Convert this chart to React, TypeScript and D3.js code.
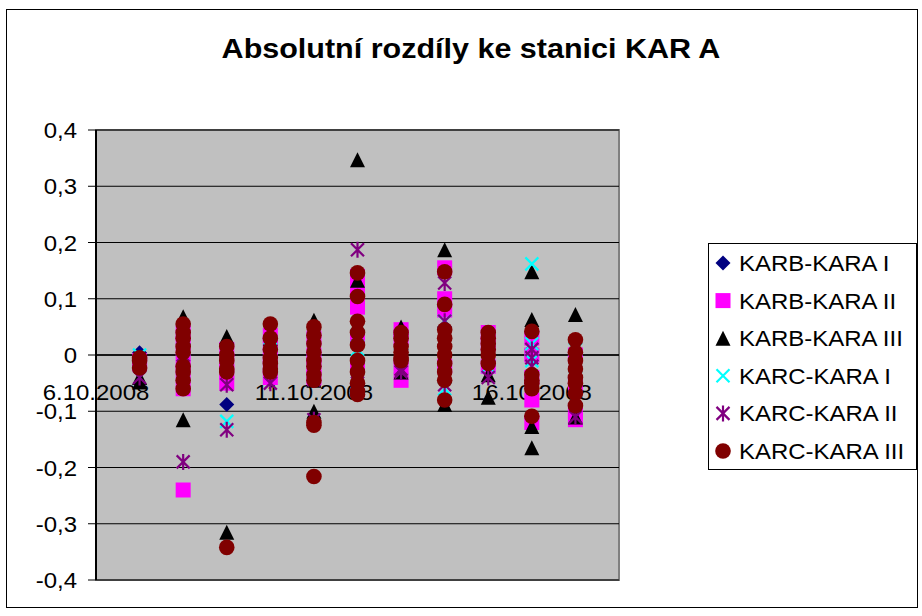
import React from 'react'
import * as d3 from 'd3'

// measurement days (x positions), one column of points per day
const days = [
  '2008-10-07', '2008-10-08', '2008-10-09', '2008-10-10', '2008-10-11', '2008-10-12',
  '2008-10-13', '2008-10-14', '2008-10-15', '2008-10-16', '2008-10-17',
]

const seriesNames = [
  'KARB-KARA I', 'KARB-KARA II', 'KARB-KARA III',
  'KARC-KARA I', 'KARC-KARA II', 'KARC-KARA III',
]

// values per day for each series
const karbI = [
  [0.004], [0.02, -0.01], [0.0, -0.088], [0.01], [0.0, -0.02], [0.03, -0.055],
  [0.01], [0.05, -0.01], [-0.01], [0.01], [0.0],
]
const karbII = [
  [-0.01, -0.015], [0.04, 0.02, -0.01, -0.03, -0.06, -0.24], [0.01, -0.01, -0.03, -0.05],
  [0.035, 0.02, 0.0, -0.02, -0.04], [0.03, 0.0, -0.02, -0.04],
  [0.14, 0.12, 0.1, 0.085, 0.03, -0.02], [0.045, 0.03, -0.02, -0.045],
  [0.155, 0.1, 0.08, -0.02], [0.04, 0.02, -0.02], [0.03, 0.0, -0.04, -0.08, -0.12],
  [0.0, -0.05, -0.1, -0.115],
]
const karbIII = [
  [-0.048, -0.04], [0.068, -0.115], [0.033, -0.315], [0.03, 0.0], [0.062, -0.045, -0.1],
  [0.347, 0.133, -0.06], [0.05, -0.03], [0.187, -0.088], [-0.035, -0.075],
  [0.148, 0.063, -0.127, -0.165], [0.072, -0.11],
]
const karcI = [
  [0.0], [0.01, -0.01, -0.05], [0.005, -0.118], [0.01, 0.02], [0.03, -0.01],
  [0.035, 0.01], [0.02, 0.0], [0.06, -0.06], [0.03, -0.02], [0.162, 0.02, -0.01],
  [0.01, -0.02],
]
const karcII = [
  [-0.04], [0.04, 0.0, -0.19], [-0.005, -0.053, -0.133], [0.0, -0.05], [-0.044, -0.115],
  [0.187, 0.03, -0.05], [-0.025, -0.03], [0.128, 0.06, -0.053], [-0.01, -0.04],
  [0.01, -0.005, -0.02], [-0.03, -0.11],
]
const karcIII = [
  [-0.005, -0.01, -0.023],
  [0.055, 0.04, 0.03, 0.015, 0.005, -0.02, -0.03, -0.045, -0.06],
  [0.015, 0.0, -0.01, -0.025, -0.03, -0.342],
  [0.055, 0.03, 0.01, -0.005, -0.015, -0.025, -0.03],
  [0.05, 0.035, 0.02, 0.005, -0.01, -0.02, -0.035, -0.045, -0.12, -0.125, -0.216],
  [0.146, 0.104, 0.06, 0.04, 0.018, -0.01, -0.03, -0.05, -0.065, -0.07],
  [0.04, 0.03, 0.015, 0.005, -0.005, -0.01],
  [0.148, 0.09, 0.045, 0.03, 0.015, 0.0, -0.015, -0.03, -0.045, -0.08],
  [0.04, 0.03, 0.02, 0.01, 0.0, -0.015],
  [0.042, -0.035, -0.045, -0.05, -0.06, -0.109],
  [0.027, 0.005, -0.01, -0.025, -0.04, -0.05, -0.068, -0.09],
]

const yTicks = [0.4, 0.3, 0.2, 0.1, 0, -0.1, -0.2, -0.3, -0.4]
const xTickDates = ['2008-10-06', '2008-10-11', '2008-10-16']

const colors = ['#000080', '#FF00FF', '#000000', '#00FFFF', '#800080', '#800000']
const allSeries = [karbI, karbII, karbIII, karcI, karcII, karcIII]

const parse = d3.timeParse('%Y-%m-%d')
const fmtDate = d3.timeFormat('%-d.%m.%Y')
// Czech style: decimal comma, plain hyphen as minus
const czLocale = d3.formatLocale({decimal: ',', thousands: ' ', grouping: [3], currency: ['', ' Kč'], minus: '-'})
const fmtY = (v: number) => (v === 0 ? '0' : czLocale.format('.1f')(v))

const plot = {left: 96, right: 619, top: 130, bottom: 580}
const x = d3.scaleTime()
  .domain([parse('2008-10-06')!, parse('2008-10-18')!])
  .range([plot.left, plot.right])
const y = d3.scaleLinear().domain([-0.4, 0.4]).range([plot.bottom, plot.top])

const FONT = 'Liberation Sans, Arial, sans-serif'
const SX = 1.09 // the original text is slightly stretched horizontally

function Marker({kind, cx, cy, color}: {kind: number; cx: number; cy: number; color: string}) {
  const r = 7.5
  if (kind === 0) {
    return <path d={`M${cx},${cy - r} L${cx + r},${cy} L${cx},${cy + r} L${cx - r},${cy} Z`} fill={color} />
  }
  if (kind === 1) {
    return <rect x={cx - r} y={cy - r} width={2 * r} height={2 * r} fill={color} />
  }
  if (kind === 2) {
    return <path d={`M${cx},${cy - r} L${cx + r},${cy + r} L${cx - r},${cy + r} Z`} fill={color} />
  }
  if (kind === 3) {
    const a = 6.5
    return (
      <path d={`M${cx - a},${cy - a} L${cx + a},${cy + a} M${cx + a},${cy - a} L${cx - a},${cy + a}`}
        stroke={color} strokeWidth={2.2} fill="none" />
    )
  }
  if (kind === 4) {
    const a = 6.5
    return (
      <path d={`M${cx - a},${cy - a} L${cx + a},${cy + a} M${cx + a},${cy - a} L${cx - a},${cy + a} M${cx},${cy - r - 0.5} L${cx},${cy + r + 0.5}`}
        stroke={color} strokeWidth={2.2} fill="none" />
    )
  }
  return <circle cx={cx} cy={cy} r={r + 0.3} fill={color} />
}

function Txt({x0, y0, size, anchor, bold, children}: any) {
  return (
    <text transform={`translate(${x0},${y0}) scale(${SX},1)`} fontFamily={FONT} fontSize={size}
      textAnchor={anchor || 'start'} fontWeight={bold ? 'bold' : 'normal'} fill="#000">
      {children}
    </text>
  )
}

export default function App() {
  return (
    <svg width={922} height={616} style={{position: 'absolute', left: 0, top: 0, background: '#fff'}}>
      <rect x={6.5} y={9.5} width={911} height={598} fill="#fff" stroke="#000" strokeWidth={1} />
      <Txt x0={471} y0={58} size={28} anchor="middle" bold>Absolutní rozdíly ke stanici KAR A</Txt>

      {/* plot area */}
      <rect x={plot.left} y={plot.top} width={plot.right - plot.left} height={plot.bottom - plot.top}
        fill="#C0C0C0" stroke="#808080" strokeWidth={2} />
      {yTicks.map((t) => (
        <g key={t}>
          <line x1={plot.left} x2={plot.right} y1={y(t)} y2={y(t)} stroke="#000" strokeWidth={1} />
          <line x1={plot.left - 8} x2={plot.left} y1={y(t)} y2={y(t)} stroke="#000" strokeWidth={1} />
          <Txt x0={77} y0={y(t) + 8} size={22} anchor="end">{fmtY(t)}</Txt>
        </g>
      ))}
      <line x1={plot.left} x2={plot.left} y1={plot.top} y2={plot.bottom} stroke="#000" strokeWidth={2} />
      <line x1={plot.left} x2={plot.right} y1={y(0)} y2={y(0)} stroke="#000" strokeWidth={1.5} />
      {xTickDates.map((d) => (
        <Txt key={d} x0={x(parse(d)!)} y0={400} size={22} anchor="middle">{fmtDate(parse(d)!)}</Txt>
      ))}

      {/* points */}
      {allSeries.map((s, si) => (
        <g key={si}>
          {s.map((vals, di) =>
            vals.map((v, k) => (
              <Marker key={di + '-' + k} kind={si} cx={x(parse(days[di])!)} cy={y(v)} color={colors[si]} />
            ))
          )}
        </g>
      ))}

      {/* legend */}
      <rect x={708.5} y={243.5} width={208} height={226} fill="#fff" stroke="#000" strokeWidth={1} />
      {seriesNames.map((n, i) => {
        const ly = 263 + i * 37.6
        return (
          <g key={n}>
            <Marker kind={i} cx={723} cy={ly} color={colors[i]} />
            <Txt x0={739} y0={ly + 8} size={22}>{n}</Txt>
          </g>
        )
      })}
    </svg>
  )
}
